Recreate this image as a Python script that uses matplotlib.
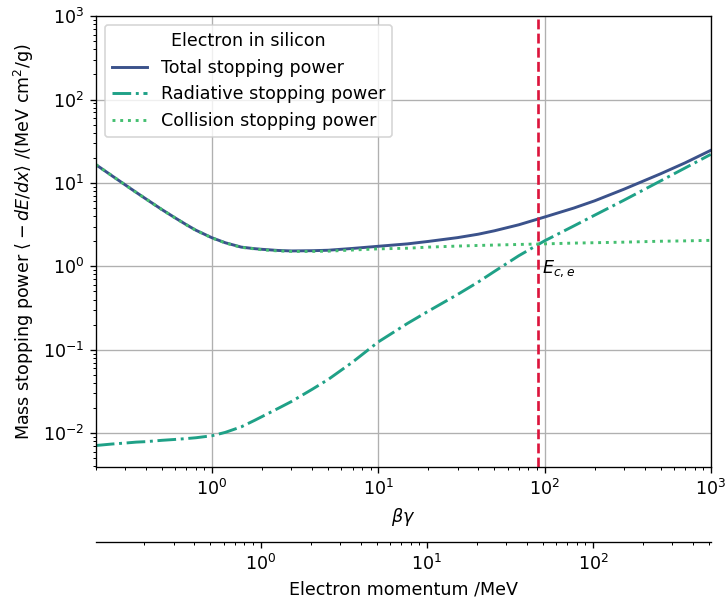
import numpy as np
import matplotlib
matplotlib.use("Agg")
import matplotlib.pyplot as plt
from matplotlib.ticker import FixedLocator

plt.rcParams["font.size"] = 10.5

# beta*gamma sampling points
betagamma = [0.2, 0.25, 0.3, 0.35, 0.4, 0.5, 0.6, 0.7, 0.8, 1, 1.2, 1.5, 1.8,
             2, 2.5, 3, 4, 5, 7, 10, 15, 20, 30, 40, 50, 70, 100, 150, 200,
             300, 500, 700, 1000]

# mass stopping power, MeV cm^2/g
total = [16.6, 12.2, 9.5, 7.7, 6.44, 4.79, 3.81, 3.16, 2.71, 2.2, 1.92, 1.70,
         1.63, 1.6, 1.55, 1.53, 1.54, 1.56, 1.64, 1.74, 1.86, 1.99, 2.21,
         2.43, 2.67, 3.15, 3.9, 5.0, 6.1, 8.4, 12.9, 17.4, 24.6]
radiative = [0.0071, 0.0074, 0.0076, 0.0078, 0.0079, 0.0082, 0.0084, 0.0086,
             0.0088, 0.0093, 0.0102, 0.0119, 0.0142, 0.0158, 0.0198, 0.0239,
             0.0335, 0.044, 0.071, 0.124, 0.207, 0.29, 0.46, 0.65, 0.87,
             1.34, 2.02, 3.05, 4.1, 6.2, 10.6, 15.1, 22.0]
collision = [16.6, 12.2, 9.5, 7.7, 6.43, 4.78, 3.80, 3.15, 2.70, 2.19, 1.91,
             1.69, 1.62, 1.58, 1.53, 1.51, 1.51, 1.52, 1.57, 1.62, 1.65, 1.70,
             1.75, 1.78, 1.80, 1.83, 1.86, 1.90, 1.92, 1.95, 2.0, 2.02, 2.05]

Ec = 91.5        # critical energy position in beta*gamma
me = 0.511       # electron mass, MeV

fig = plt.figure(figsize=(726/120, 599/120), dpi=120)
ax = fig.add_axes([0.132, 0.220, 0.847, 0.753])

ax.plot(betagamma, total, color="#3b528b", lw=1.75, label="Total stopping power")
ax.plot(betagamma, radiative, color="#1fa187", ls="-.", lw=1.75,
        label="Radiative stopping power")
ax.plot(betagamma, collision, color="#44bf70", ls=":", lw=1.75,
        label="Collision stopping power")
ax.axvline(Ec, color="crimson", ls="--", lw=1.6)
ax.text(Ec*1.05, 1.25, r"$E_{c,e}$", va="top", ha="left")

ax.set_xscale("log")
ax.set_yscale("log")
ax.set_xlim(0.2, 1000)
ax.set_ylim(0.0039, 1000)
ax.set_xlabel(r"$\beta\gamma$")
ax.set_ylabel(r"Mass stopping power $\langle -dE/dx\rangle$ /(MeV cm$^2$/g)")
ax.grid(True, color="#b0b0b0")
ax.legend(loc="upper left", title="Electron in silicon")

sec = ax.secondary_xaxis(-0.166, functions=(lambda x: x*me, lambda p: p/me))
sec.xaxis.set_major_locator(FixedLocator([1, 10, 100]))
sec.set_xlabel("Electron momentum /MeV")

fig.savefig("out.png", dpi=120)
